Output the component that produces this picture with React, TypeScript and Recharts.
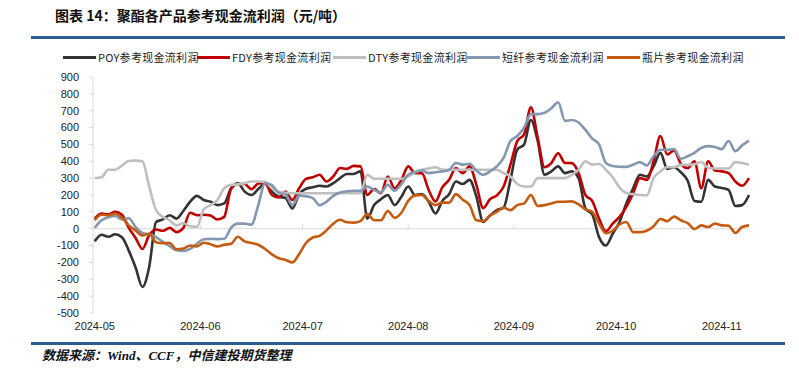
import React from 'react';
import { LineChart, Line, XAxis, YAxis, ReferenceLine } from 'recharts';

// Tick labels / categories
const monthTickDays = [0, 31, 61, 92, 123, 153, 184];
const monthLabels = ['2024-05', '2024-06', '2024-07', '2024-08', '2024-09', '2024-10', '2024-11'];
const yTicks = [-500, -400, -300, -200, -100, 0, 100, 200, 300, 400, 500, 600, 700, 800, 900];

const seriesKeys = ['poy', 'fdy', 'dty', 'psf', 'pet'];
const seriesNames = ['POY参考现金流利润', 'FDY参考现金流利润', 'DTY参考现金流利润', '短纤参考现金流利润', '瓶片参考现金流利润'];
const seriesColors = ['#333333', '#C00000', '#BFBFBF', '#8497B0', '#C55A11'];
const legendLeft = [63, 197, 333, 467, 607];

// Series values (元/吨), one point every 2 days from 2024-05-01
const POY = [
  -75, -36, -48, -33, -50, -130, -230, -345, -225, 40,
  55, 80, 60, 105, 160, 195, 170, 160, 140, 150,
  240, 270, 220, 200, 235, 268, 220, 190, 182, 120,
  205, 237, 246, 255, 250, 270, 300, 325, 325, 340,
  60, 140, 175, 200, 140, 190, 250, 200, 205, 160,
  90, 165, 205, 280, 265, 290, 190, 40, 78, 110,
  125, 290, 470, 500, 645, 520, 320, 340, 370, 330,
  340, 300, 120, 85, -50, -100, -30, 40, 150, 240,
  320, 310, 370, 450, 355, 365, 335, 285, 165, 160,
  290, 250, 242, 230, 135, 140, 200,
];
const FDY = [
  60, 90, 85, 100, 83, 5, -55, -120, -38, -5,
  -12, 5, -20, 5, 95, 80, 83, 78, 55, 70,
  235, 265, 265, 235, 268, 272, 200, 185, 220, 170,
  240, 296, 305, 320, 280, 310, 360, 355, 373, 370,
  200, 235, 210, 310, 240, 290, 370, 330, 330, 230,
  162, 245, 290, 360, 330, 370, 260, 122, 175, 198,
  250, 380, 520, 560, 720, 540, 365, 390, 448, 390,
  389, 330, 200, 165, 60, -15, 30, 70, 130, 210,
  300, 290, 400, 550, 440, 465, 385, 360, 400, 240,
  400, 345, 340, 330, 280, 255, 300,
];
const DTY = [
  300, 305, 350, 350, 375, 402, 404, 400, 250, 110,
  70, 50, 20, 32, 15, 12, 115, 140, 170, 240,
  260, 263, 270, 280, 280, 278, 240, 220, 213, 210,
  210, 210, 210, 210, 210, 210, 210, 210, 210, 210,
  320, 296, 296, 296, 296, 296, 310, 335, 350, 358,
  365, 350, 350, 350, 350, 350, 350, 350, 350, 350,
  330, 310, 265, 250, 250, 300, 300, 300, 300, 300,
  320, 350, 400, 380, 384, 350, 305, 245, 212, 205,
  200, 198, 300, 340, 365, 365, 379, 379, 382, 396,
  360, 357, 357, 357, 395, 390, 379,
];
const PSF = [
  5, 50, 68, 75, 55, 62, 10, -25, -33, -50,
  -78, -104, -128, -132, -120, -88, -63, -60, -62, -60,
  5, 30, 30, 24, 140, 270, 258, 212, 203, 140,
  196, 193, 182, 140, 160, 195, 215, 222, 225, 225,
  250, 230, 215, 260, 225, 265, 320, 336, 345, 330,
  335, 340, 348, 390, 380, 385, 345, 320, 340, 370,
  420, 520, 550, 600, 680, 680, 688, 715, 750, 640,
  645, 630, 586, 535, 500, 390, 372, 368, 367, 380,
  395, 375, 430, 468, 468, 472, 415, 430, 450, 480,
  490, 485, 472, 520, 460, 495, 523,
];
const PET = [
  50, 83, 80, 90, 65, 20, -10, -40, -30, -80,
  -86, -85, -122, -118, -100, -105, -83, -92, -105, -95,
  -90, -48, -75, -85, -95, -120, -152, -175, -185, -200,
  -150, -85, -52, -42, -10, 30, 53, 38, 36, 45,
  88, 50, 50, 105, 65, 95, 165, 198, 200, 165,
  140, 155, 155, 205, 172, 140, 50, 45, 78, 100,
  125, 110, 140, 150, 200, 135, 140, 150, 160, 160,
  162, 145, 115, 100, 30, -27, -12, 25, 40, -20,
  -20, -12, 15, 58, 45, 72, 50, 33, -2, 20,
  10, 30, 20, 18, -25, 10, 20,
];

const data = POY.map((v, i) => ({
  day: i * 2,
  poy: v,
  fdy: FDY[i],
  dty: DTY[i],
  psf: PSF[i],
  pet: PET[i],
}));

const labelFor = (d: number) => {
  const idx = monthTickDays.indexOf(d);
  return idx >= 0 ? monthLabels[idx] : '';
};

const ChartLegend = () => (
  <div
    style={{
      position: 'absolute',
      left: 0,
      top: 48,
      width: 799,
      height: 18,
      fontFamily: "'Noto Sans CJK SC', 'Liberation Sans', sans-serif",
      fontSize: 11,
      color: '#222',
      whiteSpace: 'nowrap',
    }}
  >
    {seriesKeys.map((k, i) => (
      <div
        key={k}
        style={{ position: 'absolute', left: legendLeft[i], top: 0, height: 18, display: 'flex', alignItems: 'center' }}
      >
        <span
          style={{
            display: 'inline-block',
            width: 33,
            height: 3,
            background: seriesColors[i],
            marginRight: 2,
          }}
        />
        <span style={{ letterSpacing: 0.3 }}>{seriesNames[i]}</span>
      </div>
    ))}
  </div>
);

export default function App() {
  return (
    <div
      style={{
        position: 'absolute',
        left: 0,
        top: 0,
        width: 799,
        height: 368,
        background: '#fff',
        overflow: 'hidden',
      }}
    >
      <div
        style={{
          position: 'absolute',
          left: 55,
          top: 6,
          fontSize: 14,
          lineHeight: '18px',
          fontWeight: 'bold',
          color: '#111',
          fontFamily: "'Noto Sans CJK SC', 'Liberation Sans', sans-serif",
          whiteSpace: 'nowrap',
        }}
      >
        图表 14：聚酯各产品参考现金流利润（元/吨）
      </div>
      <div style={{ position: 'absolute', left: 31, top: 36, width: 754, height: 2.5, background: '#2c5d8f' }} />

      <ChartLegend />

      <div style={{ position: 'absolute', left: 0, top: 0 }}>
        <LineChart width={799} height={368} data={data} margin={{ top: 77, right: 50, bottom: 25, left: 0 }}>
          <XAxis
            dataKey="day"
            type="number"
            domain={[-0.5, 192]}
            ticks={monthTickDays}
            tickFormatter={labelFor}
            axisLine={false}
            tickLine={false}
            tickSize={0}
            tickMargin={9}
            height={30}
            interval={0}
            tick={{ fontSize: 11, fill: '#222', fontFamily: "'Liberation Sans', Arial, sans-serif" }}
          />
          <YAxis
            domain={[-500, 900]}
            ticks={yTicks}
            interval={0}
            width={93}
            axisLine={{ stroke: '#d9d9d9' }}
            tickLine={{ stroke: '#d9d9d9' }}
            tickSize={4}
            tickMargin={10}
            tick={{ fontSize: 11, fill: '#222', fontFamily: "'Liberation Sans', Arial, sans-serif" }}
          />
          <ReferenceLine y={0} stroke="#d9d9d9" strokeWidth={1} />
          {monthTickDays.slice(1).map((d) => (
            <ReferenceLine
              key={d}
              segment={[
                { x: d, y: 0 },
                { x: d, y: 25 },
              ]}
              stroke="#d9d9d9"
              strokeWidth={1}
            />
          ))}
          {seriesKeys.map((k, i) => (
            <Line
              key={k}
              dataKey={k}
              name={seriesNames[i]}
              type="monotone"
              stroke={seriesColors[i]}
              strokeWidth={2.6}
              dot={false}
              activeDot={false}
              isAnimationActive={false}
            />
          ))}
        </LineChart>
      </div>

      <div style={{ position: 'absolute', left: 31, top: 342, width: 754, height: 2.5, background: '#2c5d8f' }} />
      <div
        style={{
          position: 'absolute',
          left: 42,
          top: 347,
          fontSize: 13,
          lineHeight: '18px',
          fontWeight: 'bold',
          fontStyle: 'italic',
          color: '#111',
          fontFamily: "'Liberation Serif', 'Noto Sans CJK SC', serif",
          whiteSpace: 'nowrap',
        }}
      >
        数据来源：Wind、CCF，中信建投期货整理
      </div>
    </div>
  );
}
